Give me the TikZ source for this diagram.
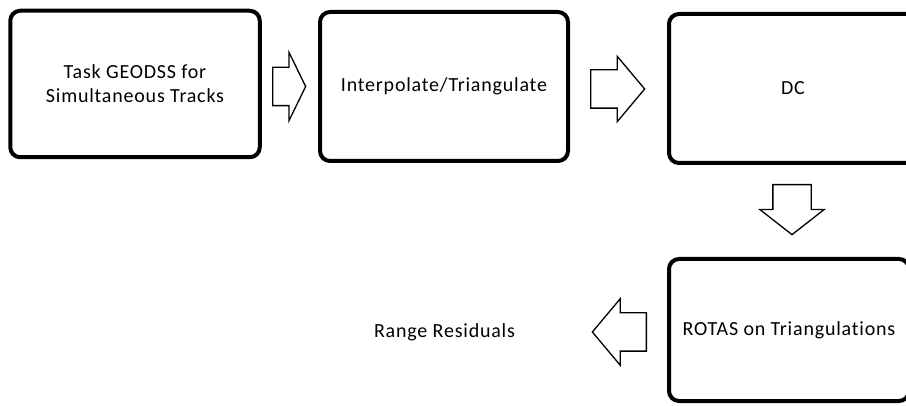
\documentclass[tikz,border=0pt]{standalone}
\usepackage{fontspec}
\setmainfont{Carlito}[Ligatures=NoCommon]
\usetikzlibrary{shapes.arrows}
\tikzset{
  stepbox/.style={draw,line width=4pt,rounded corners=10pt,align=center,
    font=\fontsize{20}{24}\selectfont\addfontfeature{LetterSpace=4}},
  blockarrow/.style={draw,single arrow,line width=1.3pt,inner xsep=0pt,inner ysep=18.5pt,
    text height=0pt,text depth=0pt,text width=0pt,anchor=tail},
  plain/.style={font=\fontsize{20}{24}\selectfont\addfontfeature{LetterSpace=4}}
}
\begin{document}
\begin{tikzpicture}[x=1pt,y=-1pt]
\useasboundingbox (0,0) rectangle (906,406);
\node[stepbox,minimum width=249.5pt,minimum height=146.5pt] (task) at (135,84) {Task GEODSS for\\Simultaneous Tracks};
\node[stepbox,minimum width=248pt,minimum height=149pt] (interp) at (444,86.5) {Interpolate/Triangulate};
\node[stepbox,minimum width=248pt,minimum height=149pt] (dc) at (793,88.5) {DC};
\node[stepbox,minimum width=240pt,minimum height=142pt] (rotas) at (789,330) {ROTAS on Triangulations};
\node[plain] (resid) at (444.5,332) {Range Residuals};
% block arrows between the steps
\node[blockarrow,minimum height=33pt,single arrow head extend=15pt,
  single arrow tip angle=128] (a1) at (272,86.5) {};
\node[blockarrow,minimum height=54pt,single arrow head extend=13.5pt,
  single arrow tip angle=100] (a2) at (590,89) {};
\node[blockarrow,minimum height=50pt,single arrow head extend=13pt,
  single arrow tip angle=104,rotate=-90] (a3) at (792,184) {};
\node[blockarrow,minimum height=54pt,single arrow head extend=14pt,
  single arrow tip angle=100,rotate=180] (a4) at (647,332) {};
\end{tikzpicture}
\end{document}
